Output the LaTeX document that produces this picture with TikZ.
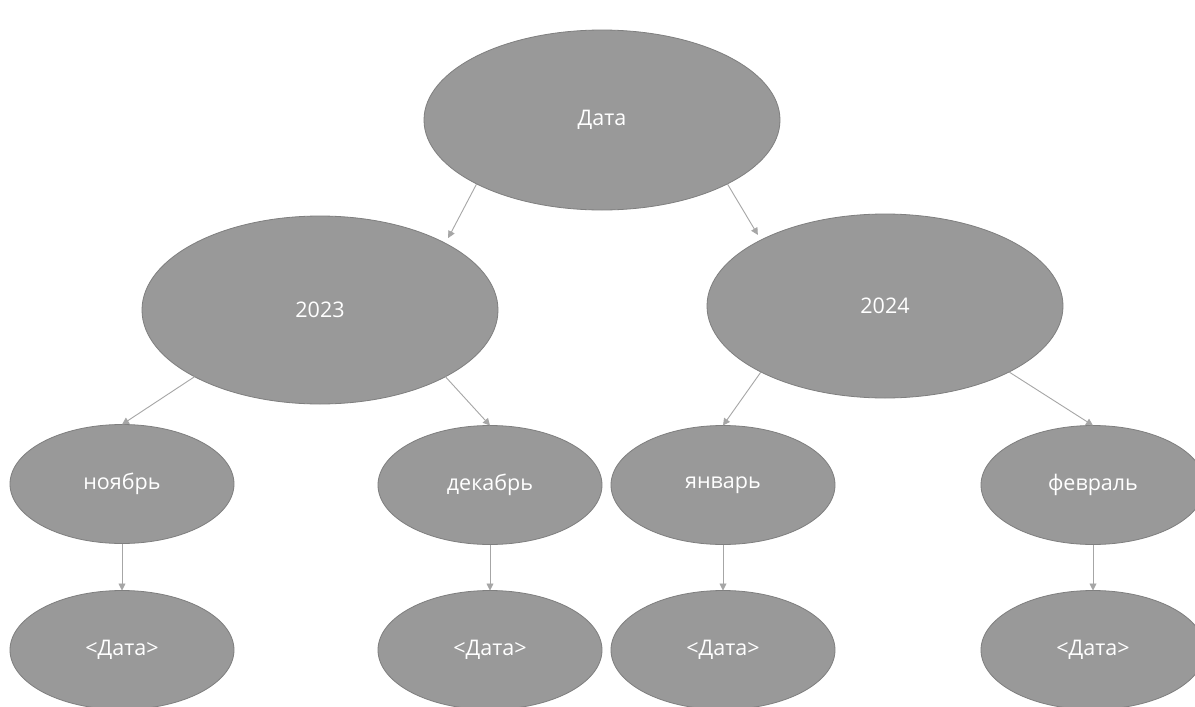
\documentclass[tikz,border=0pt]{standalone}
\usepackage{fontspec}
\setmainfont{Open Sans}
\usetikzlibrary{shapes.geometric,arrows.meta}
\definecolor{nodefill}{HTML}{999999}
\definecolor{nodeline}{HTML}{7F7F7F}
\definecolor{edgecol}{HTML}{A6A6A6}
\begin{document}
\begin{tikzpicture}[x=1pt,y=-1pt,
  oval/.style={ellipse,fill=nodefill,draw=nodeline,line width=0.8pt,inner sep=0pt,outer sep=0pt,
    text=white,font=\fontsize{21.5}{24}\selectfont},
  big/.style={oval,minimum width=356pt,minimum height=184pt},
  small/.style={oval,minimum width=224pt,minimum height=119pt},
  link/.style={draw=edgecol,line width=0.9pt,-{Triangle[length=7pt,width=7pt]}}]
\clip (0,0) rectangle (1195,707);
\fill[white] (0,0) rectangle (1195,707);
\node[big,minimum height=180pt] (root) at (602,120) {Дата};
\node[big,minimum height=188pt] (y23) at (320,310) {2023};
\node[big] (y24) at (885,306) {2024};
\node[small] (nov) at (122,484) {ноябрь};
\node[small] (dec) at (490,485) {декабрь};
\node[small] (jan) at (723,485) {январь};
\node[small] (feb) at (1093,485) {февраль};
\node[small] (d1) at (122,650) {<Дата>};
\node[small] (d2) at (490,650) {<Дата>};
\node[small] (d3) at (723,650) {<Дата>};
\node[small] (d4) at (1093,650) {<Дата>};
\draw[link,shorten >=6pt] (root.207) -- (y23.28);
\draw[link,shorten >=6pt] (root.333) -- (y24.152);
\draw[link] (y23.208) -- (nov.north);
\draw[link] (y23.332) -- (dec.north);
\draw[link] (y24.208) -- (jan.north);
\draw[link] (y24.332) -- (feb.north);
\draw[link] (nov.south) -- (d1.north);
\draw[link] (dec.south) -- (d2.north);
\draw[link] (jan.south) -- (d3.north);
\draw[link] (feb.south) -- (d4.north);
\end{tikzpicture}
\end{document}
